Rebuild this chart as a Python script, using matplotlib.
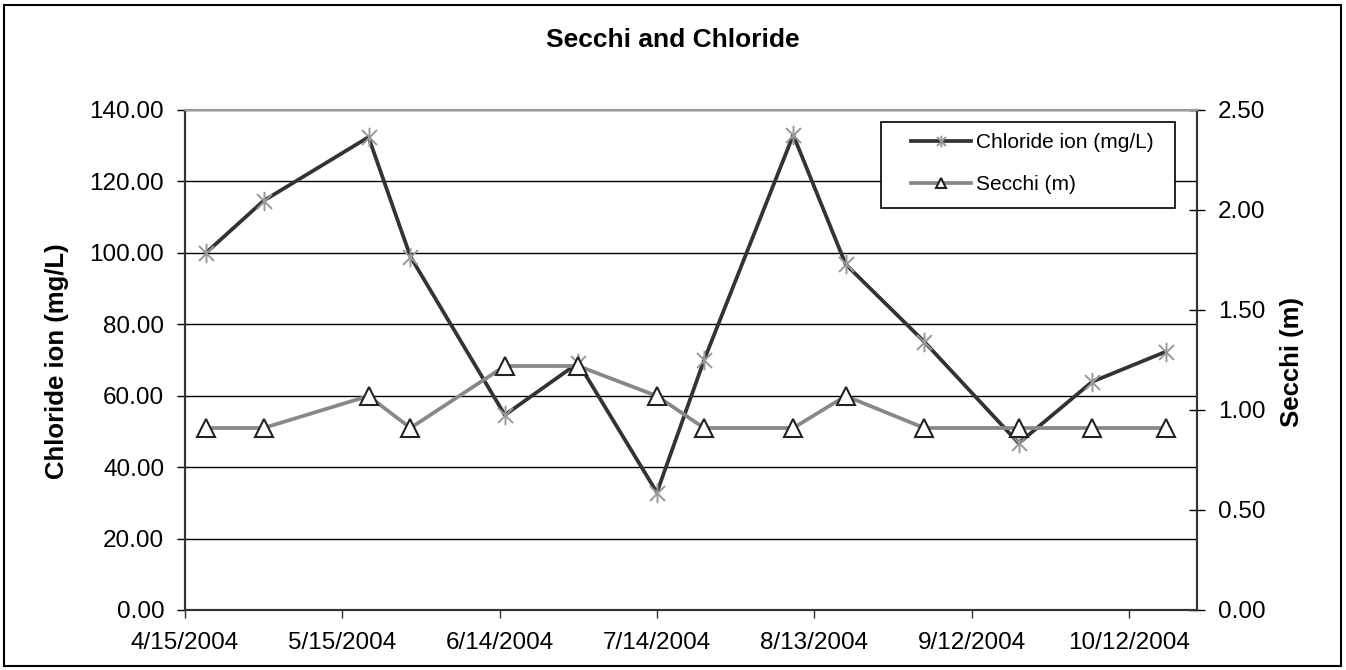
import datetime as dt
import matplotlib
matplotlib.use("Agg")
import matplotlib.pyplot as plt
from matplotlib.path import Path
from matplotlib.patches import Rectangle

plt.rcParams['font.family'] = ['Liberation Sans', 'DejaVu Sans']

# sample dates (2004) and values
dates = ["2004-04-19", "2004-04-30", "2004-05-20", "2004-05-28", "2004-06-15",
         "2004-06-29", "2004-07-14", "2004-07-23", "2004-08-09", "2004-08-19",
         "2004-09-03", "2004-09-21", "2004-10-05", "2004-10-19"]
chloride = [100.0, 114.6, 132.4, 98.9, 54.6, 69.2, 32.9, 70.0, 133.0, 96.8,
            75.1, 46.7, 63.9, 72.3]
secchi = [0.91, 0.91, 1.07, 0.91, 1.22, 1.22, 1.07, 0.91, 0.91, 1.07,
          0.91, 0.91, 0.91, 0.91]

x_ticks = ["2004-04-15", "2004-05-15", "2004-06-14", "2004-07-14",
           "2004-08-13", "2004-09-12", "2004-10-12"]
x_limits = ["2004-04-15", "2004-10-25"]
left_ticks = [0, 20, 40, 60, 80, 100, 120, 140]
right_ticks = [0.0, 0.5, 1.0, 1.5, 2.0, 2.5]

to_date = lambda s: dt.datetime.strptime(s, "%Y-%m-%d")
x = [to_date(d) for d in dates]

W, H = 1346, 670
fig = plt.figure(figsize=(W / 100, H / 100), dpi=100)
ax1 = fig.add_axes([185 / W, 1 - 610 / H, (1197 - 185) / W, 500 / H])
ax2 = ax1.twinx()

# Excel style star: X plus vertical bar
star = Path([(-1, -1), (1, 1), (-1, 1), (1, -1), (0, -1.3), (0, 1.3)],
            [Path.MOVETO, Path.LINETO, Path.MOVETO, Path.LINETO, Path.MOVETO, Path.LINETO])

l1, = ax1.plot(x, chloride, color="#333333", lw=2.7, marker=star, ms=14,
               mec="#999999", mfc="none", mew=1.4, label="Chloride ion (mg/L)", zorder=3)
l2, = ax2.plot(x, secchi, color="#888888", lw=2.7, marker="^", ms=13,
               mec="#222222", mfc="white", mew=1.5, label="Secchi (m)", zorder=3)

ax1.set_xlim(to_date(x_limits[0]), to_date(x_limits[1]))
tick_dates = [to_date(d) for d in x_ticks]
ax1.set_xticks(tick_dates)
ax1.set_xticklabels([f"{d.month}/{d.day}/{d.year}" for d in tick_dates])

ax1.set_ylim(0, 140)
ax1.set_yticks(left_ticks)
ax1.set_yticklabels([f"{v:.2f}" for v in left_ticks])
ax2.set_ylim(0, 2.5)
ax2.set_yticks(right_ticks)
ax2.set_yticklabels([f"{v:.2f}" for v in right_ticks])

ax1.yaxis.grid(True, color="black", lw=1.0)
ax1.set_axisbelow(True)

for ax in (ax1, ax2):
    for side in ("left", "right", "bottom"):
        ax.spines[side].set_color("#333333")
        ax.spines[side].set_linewidth(1.5)
    ax.spines["top"].set_color("#999999")
    ax.spines["top"].set_linewidth(1.5)

ax1.tick_params(axis="y", direction="out", length=6, width=1, labelsize=17.5, pad=9)
ax1.tick_params(axis="x", direction="out", length=6, width=1, labelsize=17.5, pad=10,
                color="#333333")
ax2.tick_params(axis="y", direction="inout", length=12, width=1, labelsize=17.5, pad=9)

fig.text(0.5, 1 - 40 / H, "Secchi and Chloride", ha="center", va="center",
         fontsize=19, fontweight="bold")
fig.text(57 / W, 1 - 361 / H, "Chloride ion (mg/L)", ha="center", va="center",
         rotation=90, fontsize=18.5, fontweight="bold")
fig.text(1292 / W, 1 - 362 / H, "Secchi (m)", ha="center", va="center",
         rotation=90, fontsize=18.5, fontweight="bold")

# legend with a square frame drawn behind it
frame = Rectangle((881 / W, 1 - 208 / H), (1175 - 881) / W, 86 / H,
                  transform=fig.transFigure, fill=True, fc="white",
                  ec="black", lw=1.2, zorder=4)
ax2.add_artist(frame)
leg = ax2.legend(handles=[l1, l2], loc="upper left", frameon=False,
                 bbox_to_anchor=(905 / W, 1 - 127 / H), bbox_transform=fig.transFigure,
                 fontsize=15, handlelength=2.85, handletextpad=0.25, labelspacing=1.1,
                 borderaxespad=0, borderpad=0.3, markerscale=0.6)
leg.set_zorder(5)

# outer chart border
fig.add_artist(Rectangle((4 / W, 4 / H), (1341 - 4) / W, (666 - 5) / H,
                         transform=fig.transFigure, fill=False, ec="black", lw=1.5))

fig.savefig("out.png", dpi=100)
